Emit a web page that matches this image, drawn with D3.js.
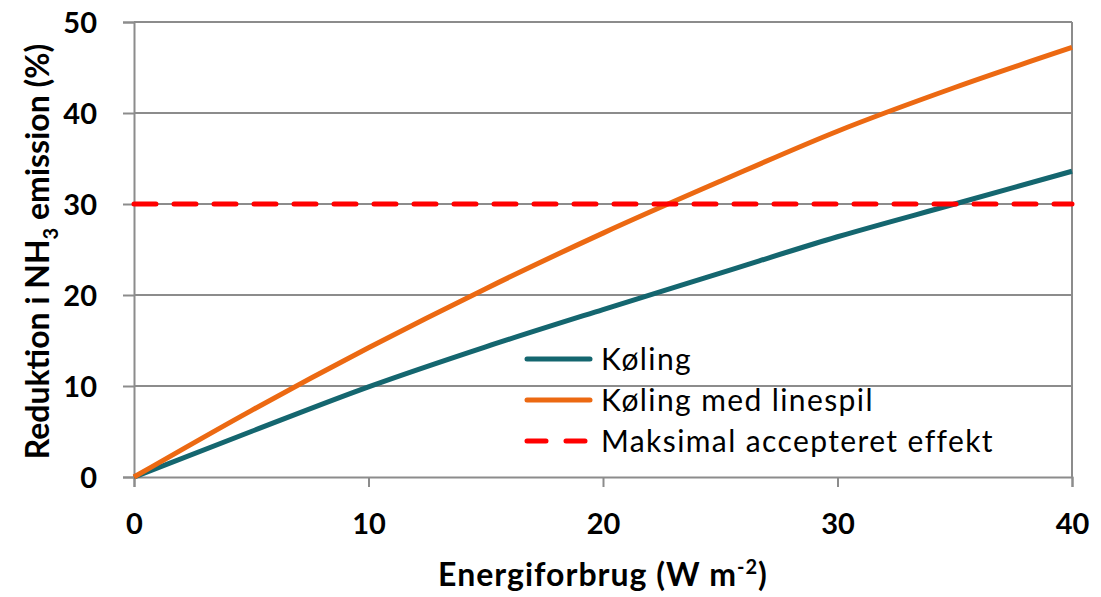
<!DOCTYPE html>
<html>
<head>
<meta charset="utf-8">
<script src="https://cdn.jsdelivr.net/npm/d3@7"></script>
<style>
  body { margin: 0; background: #fff; }
  svg { display: block; font-family: Lato, "Open Sans", sans-serif; }
</style>
</head>
<body>
<svg id="chart" width="1101" height="597"></svg>
<script>
// energy use (W m-2) and reduction (%)
const energy = [0, 5, 10, 15, 20, 25, 30, 35, 40];
const koeling = [0, 5.0, 9.9, 14.3, 18.4, 22.4, 26.4, 30.0, 33.6];
const koelingLinespil = [0, 7.3, 14.2, 20.7, 26.8, 32.5, 38.0, 42.8, 47.2];
const maxAccepted = 30;
const xTicks = [0, 10, 20, 30, 40];
const yTicks = [0, 10, 20, 30, 40, 50];

const series = [
    {name: 'Køling', values: koeling, color: '#14666f', dash: null},
    {name: 'Køling med linespil', values: koelingLinespil, color: '#ec6912', dash: null},
    {name: 'Maksimal accepteret effekt', values: energy.map(() => maxAccepted), color: '#ff0000', dash: '22 18'}
];

const svg = d3.select('#chart');
const margin = {left: 134, right: 29, top: 22, bottom: 120};
const W = 1101, H = 597;

const x = d3.scaleLinear().domain([0, 40]).range([margin.left, W - margin.right]);
const y = d3.scaleLinear().domain([0, 50]).range([H - margin.bottom, margin.top]);

const gridColor = '#8c8c8c';

// horizontal gridlines
svg.append('g')
    .selectAll('line')
    .data(yTicks.slice(1))
    .enter()
    .append('line')
    .attr('x1', x(0))
    .attr('x2', x(40))
    .attr('y1', d => y(d))
    .attr('y2', d => y(d))
    .attr('stroke', gridColor)
    .attr('stroke-width', 2);

// right border
svg.append('line')
    .attr('x1', x(40)).attr('x2', x(40))
    .attr('y1', y(50)).attr('y2', y(0))
    .attr('stroke', gridColor)
    .attr('stroke-width', 2);

// axes
const xAxis = svg.append('g')
    .attr('transform', `translate(0,${y(0)})`)
    .call(d3.axisBottom(x).tickValues(xTicks).tickSize(10).tickPadding(26).tickFormat(d3.format('d')));
const yAxis = svg.append('g')
    .attr('transform', `translate(${x(0)},0)`)
    .call(d3.axisLeft(y).tickValues(yTicks).tickSize(11).tickPadding(26).tickFormat(d3.format('d')));

[xAxis, yAxis].forEach(ax => {
    ax.select('.domain').attr('stroke', gridColor).attr('stroke-width', 2);
    ax.selectAll('.tick line').attr('stroke', gridColor).attr('stroke-width', 2);
    ax.selectAll('.tick text')
        .attr('fill', '#000')
        .style('font-size', '29px')
        .style('font-weight', 'bold')
        .style('font-family', 'Lato, sans-serif');
});
yAxis.selectAll('.tick text').attr('dy', '0.36em');

// lines
const line = d3.line()
    .x((d, i) => x(energy[i]))
    .y(d => y(d))
    .curve(d3.curveMonotoneX);

series.forEach(s => {
    svg.append('path')
        .datum(s.values)
        .attr('d', line)
        .attr('fill', 'none')
        .attr('stroke', s.color)
        .attr('stroke-width', 5)
        .attr('stroke-linecap', s.dash ? 'round' : 'butt')
        .attr('stroke-dasharray', s.dash);
});

// legend
const legend = svg.append('g').attr('transform', 'translate(525,359)');
series.forEach((s, i) => {
    const row = legend.append('g').attr('transform', `translate(0,${i * 41})`);
    row.append('line')
        .attr('x1', 2).attr('x2', 65)
        .attr('stroke', s.color)
        .attr('stroke-width', 5)
        .attr('stroke-linecap', 'round')
        .attr('stroke-dasharray', s.dash ? '19 20' : null);
    row.append('text')
        .attr('x', 76)
        .attr('dy', '0.36em')
        .style('font-size', '30px')
        .style('letter-spacing', '1.4px')
        .text(s.name);
});

// axis titles
svg.append('text')
    .attr('x', (x(0) + x(40)) / 2)
    .attr('y', 586)
    .attr('text-anchor', 'middle')
    .style('font-size', '32px')
    .style('font-weight', 'bold')
    .style('letter-spacing', '1px')
    .call(t => {
        t.append('tspan').text('Energiforbrug (W m');
        t.append('tspan').attr('dy', -12).style('font-size', '20px').text('-2');
        t.append('tspan').attr('dy', 12).text(')');
    });

svg.append('text')
    .attr('transform', `translate(49,${y(25) + 2}) rotate(-90)`)
    .attr('text-anchor', 'middle')
    .style('font-size', '32px')
    .style('font-weight', 'bold')
    .call(t => {
        t.append('tspan').text('Reduktion i NH');
        t.append('tspan').attr('dy', 9).style('font-size', '20px').text('3');
        t.append('tspan').attr('dy', -9).text(' emission (%)');
    });
</script>
</body>
</html>
